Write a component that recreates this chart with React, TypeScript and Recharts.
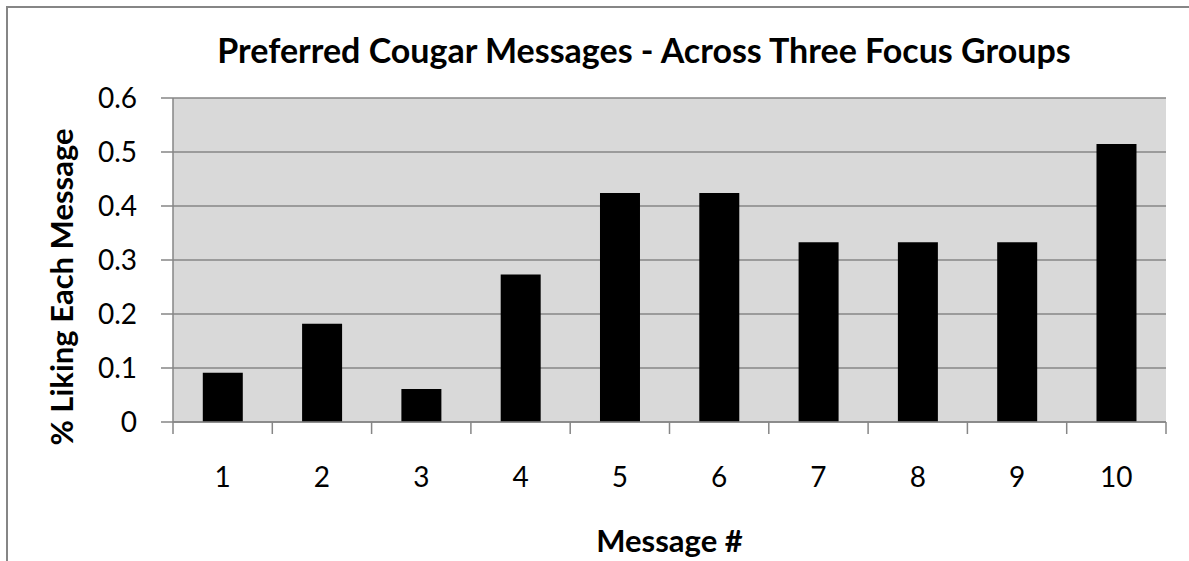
import React from 'react';
import { BarChart, Bar, XAxis, YAxis, CartesianGrid, Label } from 'recharts';

const messages = ['1', '2', '3', '4', '5', '6', '7', '8', '9', '10'];
const liking = [0.091, 0.182, 0.061, 0.273, 0.424, 0.424, 0.333, 0.333, 0.333, 0.515];
const yTicks = [0, 0.1, 0.2, 0.3, 0.4, 0.5, 0.6];

const chartData = messages.map((m, i) => ({ name: m, value: liking[i] }));

const FONT = 'Lato, "Open Sans", "Liberation Sans", sans-serif';
const AXIS_GRAY = '#868686';
const HALF_BAND = (1189 - 173 - 23) / messages.length / 2;

// Excel-style category axis: tick marks sit between categories, labels in the middle
const CategoryTick = (props: any) => {
    const { x, y, payload, index } = props;
    const half = payload?.offset || HALF_BAND;
    const top = y - 45;
    return (
        <g>
            {index === 0 && (
                <line x1={x - half} x2={x - half} y1={top} y2={top + 12} stroke={AXIS_GRAY} strokeWidth={1.5} />
            )}
            <line x1={x + half} x2={x + half} y1={top} y2={top + 12} stroke={AXIS_GRAY} strokeWidth={1.5} />
            <text x={x} y={y} dy="0.71em" textAnchor="middle" fontFamily={FONT} fontSize={28} fill="#000">
                {payload.value}
            </text>
        </g>
    );
};

const YTitle = (props: any) => {
    const cy = 287;
    return (
        <text
            x={73}
            y={cy}
            transform={`rotate(-90, 73, ${cy})`}
            textAnchor="middle"
            fontFamily={FONT}
            fontWeight="bold"
            fontSize={31}
            fill="#000"
        >
            % Liking Each Message
        </text>
    );
};

const XTitle = (props: any) => {
    const { viewBox } = props;
    const cx = viewBox.x + viewBox.width / 2;
    return (
        <text x={cx} y={552} textAnchor="middle" fontFamily={FONT} fontWeight="bold" fontSize={31} fill="#000">
            Message #
        </text>
    );
};

const App: React.FC = () => {
    return (
        <div style={{ position: 'absolute', left: 0, top: 0, width: 1189, height: 561, overflow: 'hidden', background: '#fff' }}>
            <div
                style={{
                    position: 'absolute',
                    left: 6,
                    top: 6,
                    width: 1400,
                    height: 800,
                    border: `2px solid ${AXIS_GRAY}`,
                }}
            />
            <div style={{ position: 'absolute', left: 0, top: 0 }}>
                <BarChart
                    width={1189}
                    height={561}
                    data={chartData}
                    margin={{ top: 98, right: 23, bottom: 0, left: 0 }}
                    barCategoryGap="30%"
                >
                    <text x={644} y={63} textAnchor="middle" fontFamily={FONT} fontWeight="bold" fontSize={34} fill="#000">
                        Preferred Cougar Messages - Across Three Focus Groups
                    </text>
                    <CartesianGrid vertical={false} stroke={AXIS_GRAY} strokeWidth={1.5} fill="#d9d9d9" />
                    <XAxis
                        dataKey="name"
                        height={139}
                        tickSize={12}
                        tickMargin={33}
                        axisLine={{ stroke: AXIS_GRAY, strokeWidth: 1.5 }}
                        tickLine={false}
                        tick={<CategoryTick />}
                        interval={0}
                    >
                        <Label content={<XTitle />} />
                    </XAxis>
                    <YAxis
                        width={173}
                        domain={[0, 0.6]}
                        ticks={yTicks}
                        tickSize={12}
                        tickMargin={24}
                        axisLine={{ stroke: AXIS_GRAY, strokeWidth: 1.5 }}
                        tickLine={{ stroke: AXIS_GRAY, strokeWidth: 1.5 }}
                        tick={{ fontFamily: FONT, fontSize: 28, fill: '#000' }}
                        tickFormatter={(v: number) => String(v)}
                    >
                        <Label content={<YTitle />} />
                    </YAxis>
                    <Bar dataKey="value" fill="#000" isAnimationActive={false} />
                </BarChart>
            </div>
        </div>
    );
};

export default App;
